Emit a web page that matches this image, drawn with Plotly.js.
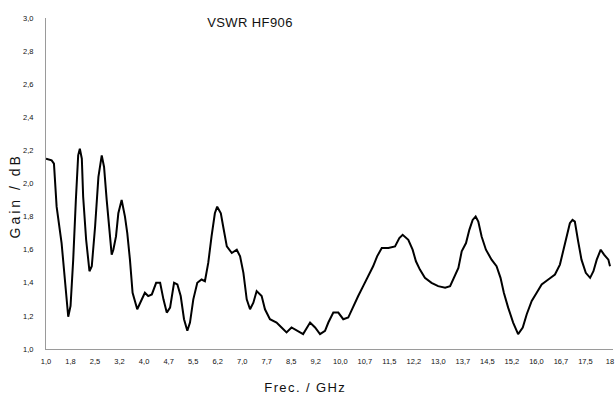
<!DOCTYPE html>
<html>
<head>
<meta charset="utf-8">
<script src="https://cdn.plot.ly/plotly-3.0.1.min.js"></script>
<style>
  html, body { margin: 0; padding: 0; background: #fff; }
  #chart { width: 616px; height: 395px; }
  .gtitle { letter-spacing: 0.4px; }
  g.annotation[data-index="0"] text { letter-spacing: 1.4px; }
  g.annotation[data-index="1"] text { letter-spacing: 3px; }
</style>
</head>
<body>
<div id="chart"></div>
<script>
const freqGHz = [1.00,1.17,1.24,1.32,1.47,1.57,1.67,1.74,1.82,1.90,
  1.97,2.02,2.08,2.12,2.21,2.31,2.38,2.48,2.58,2.68,
  2.75,2.83,2.91,2.98,3.03,3.11,3.18,3.28,3.38,3.45,
  3.53,3.61,3.75,3.88,3.98,4.08,4.19,4.32,4.44,4.54,
  4.64,4.74,4.86,4.96,5.06,5.16,5.26,5.34,5.44,5.56,
  5.69,5.79,5.89,5.99,6.09,6.16,6.27,6.34,6.45,6.60,
  6.75,6.85,6.95,7.05,7.15,7.25,7.35,7.50,7.60,7.75,
  7.95,8.10,8.25,8.40,8.56,8.75,8.96,9.11,9.26,9.41,
  9.51,9.66,9.81,9.96,10.11,10.26,10.41,10.56,10.71,10.86,
  10.98,11.12,11.32,11.52,11.65,11.75,11.92,12.05,12.15,12.27,
  12.42,12.62,12.82,13.03,13.18,13.30,13.43,13.53,13.66,13.76,
  13.86,13.95,14.03,14.13,14.26,14.43,14.58,14.70,14.80,14.93,
  15.08,15.23,15.37,15.49,15.64,15.79,15.94,16.14,16.34,16.49,
  16.59,16.69,16.79,16.87,16.94,17.04,17.14,17.27,17.40,17.50,
  17.60,17.72,17.82,17.95,18.00];

const gainDB = [2.15,2.14,2.12,1.86,1.64,1.44,1.195,1.26,1.54,1.90,
  2.17,2.21,2.15,1.92,1.66,1.47,1.50,1.74,2.04,2.17,
  2.10,1.90,1.70,1.57,1.60,1.68,1.82,1.90,1.80,1.70,
  1.54,1.34,1.24,1.30,1.34,1.32,1.33,1.40,1.40,1.30,
  1.22,1.25,1.40,1.39,1.32,1.18,1.11,1.16,1.30,1.40,
  1.42,1.41,1.52,1.68,1.82,1.86,1.82,1.74,1.62,1.58,
  1.60,1.56,1.46,1.30,1.24,1.28,1.35,1.32,1.24,1.18,
  1.16,1.13,1.10,1.13,1.11,1.09,1.16,1.13,1.09,1.11,
  1.16,1.22,1.22,1.18,1.19,1.26,1.32,1.38,1.44,1.50,
  1.56,1.61,1.61,1.62,1.67,1.69,1.66,1.60,1.53,1.48,
  1.43,1.40,1.38,1.37,1.38,1.43,1.49,1.59,1.64,1.72,
  1.78,1.80,1.77,1.68,1.60,1.54,1.50,1.43,1.34,1.25,
  1.16,1.09,1.13,1.21,1.29,1.34,1.39,1.42,1.45,1.51,
  1.60,1.68,1.76,1.78,1.77,1.65,1.54,1.46,1.43,1.47,
  1.54,1.60,1.57,1.54,1.50];

const xTickLabels = ["1,0","1,8","2,5","3,2","4,0","4,7","5,5","6,2","7,0","7,7","8,5","9,2",
  "10,0","10,7","11,5","12,2","13,0","13,7","14,5","15,2","16,0","16,7","17,5","18"];

const chartTitle = "VSWR HF906";
const xTitle = "Frec. / GHz";
const yTitle = "Gain / dB";

// evenly spaced category-style tick positions across 1..18 GHz
const fMin = 1, fMax = 18;
const xTickVals = xTickLabels.map((_, i) => fMin + i * (fMax - fMin) / (xTickLabels.length - 1));

const font = "Liberation Sans, Arial, sans-serif";

const trace = {
  x: freqGHz,
  y: gainDB,
  type: "scatter",
  mode: "lines",
  line: { color: "#000000", width: 2 },
  hoverinfo: "skip",
  showlegend: false
};

const layout = {
  width: 616,
  height: 395,
  paper_bgcolor: "#ffffff",
  plot_bgcolor: "#ffffff",
  separators: ",.",
  margin: { l: 46, r: 3, t: 18, b: 46, pad: 0 },
  font: { family: font, color: "#111111", size: 8 },
  title: {
    text: chartTitle,
    font: { family: font, size: 13, color: "#111111" },
    xref: "container", yref: "container",
    x: 250 / 616, xanchor: "center",
    y: 1 - 22 / 395, yanchor: "middle"
  },
  xaxis: {
    range: [1, 18.09],
    tickmode: "array",
    tickvals: xTickVals,
    ticktext: xTickLabels,
    ticks: "",
    showgrid: false,
    zeroline: false,
    showline: true,
    linecolor: "#9a9a9a",
    linewidth: 1,
    tickfont: { family: font, size: 7.5, color: "#111111" },
    ticklabelstandoff: 5,
    fixedrange: true
  },
  yaxis: {
    range: [1, 3],
    tickmode: "linear",
    tick0: 1,
    dtick: 0.2,
    tickformat: ".1f",
    ticks: "",
    showgrid: false,
    zeroline: false,
    showline: true,
    linecolor: "#9a9a9a",
    linewidth: 1,
    tickfont: { family: font, size: 7.5, color: "#111111" },
    ticklabelstandoff: 10,
    fixedrange: true
  },
  annotations: [
    {
      text: xTitle, xref: "paper", yref: "paper",
      x: (305 - 46) / 567, y: -(387 - 349) / 331,
      xanchor: "center", yanchor: "middle", showarrow: false,
      font: { family: font, size: 13, color: "#111111" }
    },
    {
      text: yTitle, xref: "paper", yref: "paper",
      x: (15 - 46) / 567, y: (349 - 196) / 331,
      xanchor: "center", yanchor: "middle", showarrow: false, textangle: -90,
      font: { family: font, size: 14, color: "#111111" }
    }
  ]
};

Plotly.newPlot("chart", [trace], layout, { displayModeBar: false, staticPlot: true });
</script>
</body>
</html>
